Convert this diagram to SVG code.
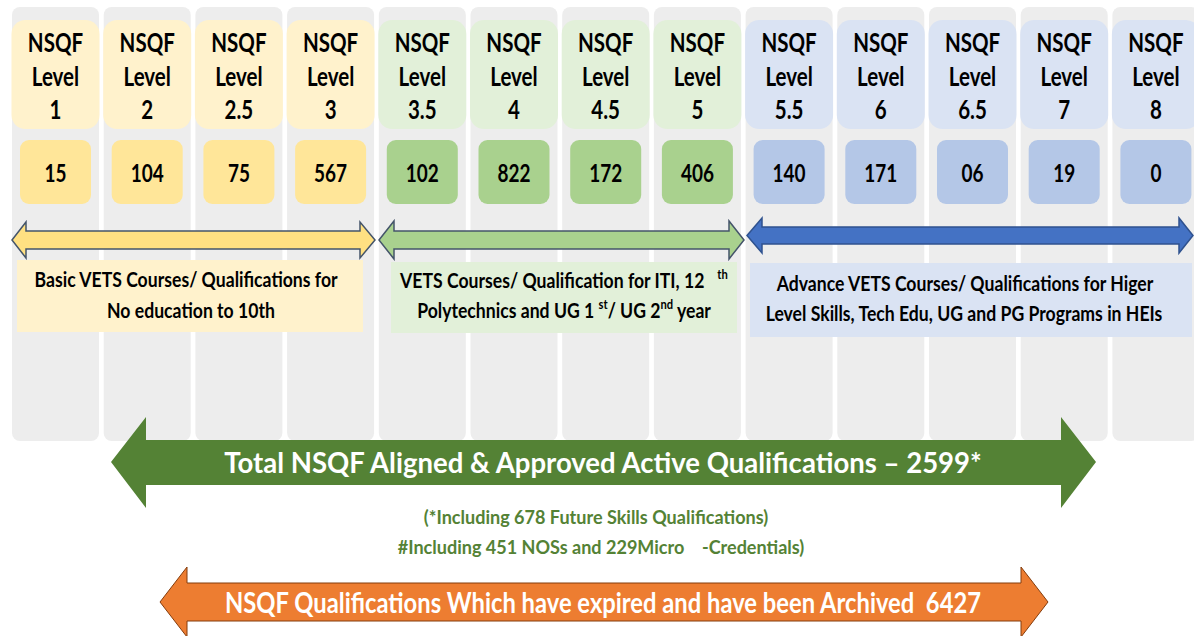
<svg xmlns="http://www.w3.org/2000/svg" width="1194" height="636" viewBox="0 0 1194 636">
<style>
text { font-family: Lato, "Open Sans", "Liberation Sans", sans-serif; font-weight: bold; text-anchor: middle; }
.sq { transform-box: fill-box; transform-origin: center; transform: scaleX(0.76); }
.sd { transform-box: fill-box; transform-origin: center; transform: scaleX(0.86); }
.sb { transform-box: fill-box; transform-origin: center; transform: scaleX(0.95); }
.so { transform-box: fill-box; transform-origin: center; transform: scaleX(0.82); }
.col { fill: #EDEDED; }
.lbl { font-size: 27px; fill: #000; }
.num { font-size: 25px; fill: #000; }
.desc { font-size: 20.5px; fill: #000; }
.big { font-size: 29px; fill: #fff; }
.sub { font-size: 19px; fill: #548235; }
.y1 { fill: #FFF2CC; } .y2 { fill: #FFE699; }
.g1 { fill: #E2F0D9; } .g2 { fill: #A9D18E; }
.b1 { fill: #DAE3F3; } .b2 { fill: #B4C7E7; }
</style>
<rect width="1194" height="636" fill="#fff"/>
<g id="columns">
<rect class="col" x="12" y="7" width="87" height="434" rx="8"/>
<rect class="col" x="103.7" y="7" width="87" height="434" rx="8"/>
<rect class="col" x="195.4" y="7" width="87" height="434" rx="8"/>
<rect class="col" x="287.1" y="7" width="87" height="434" rx="8"/>
<rect class="col" x="378.8" y="7" width="87" height="434" rx="8"/>
<rect class="col" x="470.5" y="7" width="87" height="434" rx="8"/>
<rect class="col" x="562.2" y="7" width="87" height="434" rx="8"/>
<rect class="col" x="653.9" y="7" width="87" height="434" rx="8"/>
<rect class="col" x="745.6" y="7" width="87" height="434" rx="8"/>
<rect class="col" x="837.3" y="7" width="87" height="434" rx="8"/>
<rect class="col" x="929" y="7" width="87" height="434" rx="8"/>
<rect class="col" x="1020.7" y="7" width="87" height="434" rx="8"/>
<rect class="col" x="1112.4" y="7" width="87" height="434" rx="8"/>
</g>
<g id="level-1"><rect class="y1" x="11.5" y="20" width="88" height="109" rx="14"/><rect class="y2" x="20" y="140" width="71" height="64" rx="9"/>
<text class="lbl sq" x="55.5" y="52">NSQF</text><text class="lbl sq" x="55.5" y="86">Level</text><text class="lbl sq" x="55.5" y="119">1</text><text class="num sq" x="55.5" y="182">15</text></g>
<g id="level-2"><rect class="y1" x="103.2" y="20" width="88" height="109" rx="14"/><rect class="y2" x="111.7" y="140" width="71" height="64" rx="9"/>
<text class="lbl sq" x="147.2" y="52">NSQF</text><text class="lbl sq" x="147.2" y="86">Level</text><text class="lbl sq" x="147.2" y="119">2</text><text class="num sq" x="147.2" y="182">104</text></g>
<g id="level-2-5"><rect class="y1" x="194.9" y="20" width="88" height="109" rx="14"/><rect class="y2" x="203.4" y="140" width="71" height="64" rx="9"/>
<text class="lbl sq" x="238.9" y="52">NSQF</text><text class="lbl sq" x="238.9" y="86">Level</text><text class="lbl sq" x="238.9" y="119">2.5</text><text class="num sq" x="238.9" y="182">75</text></g>
<g id="level-3"><rect class="y1" x="286.6" y="20" width="88" height="109" rx="14"/><rect class="y2" x="295.1" y="140" width="71" height="64" rx="9"/>
<text class="lbl sq" x="330.6" y="52">NSQF</text><text class="lbl sq" x="330.6" y="86">Level</text><text class="lbl sq" x="330.6" y="119">3</text><text class="num sq" x="330.6" y="182">567</text></g>
<g id="level-3-5"><rect class="g1" x="378.3" y="20" width="88" height="109" rx="14"/><rect class="g2" x="386.8" y="140" width="71" height="64" rx="9"/>
<text class="lbl sq" x="422.3" y="52">NSQF</text><text class="lbl sq" x="422.3" y="86">Level</text><text class="lbl sq" x="422.3" y="119">3.5</text><text class="num sq" x="422.3" y="182">102</text></g>
<g id="level-4"><rect class="g1" x="470" y="20" width="88" height="109" rx="14"/><rect class="g2" x="478.5" y="140" width="71" height="64" rx="9"/>
<text class="lbl sq" x="514" y="52">NSQF</text><text class="lbl sq" x="514" y="86">Level</text><text class="lbl sq" x="514" y="119">4</text><text class="num sq" x="514" y="182">822</text></g>
<g id="level-4-5"><rect class="g1" x="561.7" y="20" width="88" height="109" rx="14"/><rect class="g2" x="570.2" y="140" width="71" height="64" rx="9"/>
<text class="lbl sq" x="605.7" y="52">NSQF</text><text class="lbl sq" x="605.7" y="86">Level</text><text class="lbl sq" x="605.7" y="119">4.5</text><text class="num sq" x="605.7" y="182">172</text></g>
<g id="level-5"><rect class="g1" x="653.4" y="20" width="88" height="109" rx="14"/><rect class="g2" x="661.9" y="140" width="71" height="64" rx="9"/>
<text class="lbl sq" x="697.4" y="52">NSQF</text><text class="lbl sq" x="697.4" y="86">Level</text><text class="lbl sq" x="697.4" y="119">5</text><text class="num sq" x="697.4" y="182">406</text></g>
<g id="level-5-5"><rect class="b1" x="745.1" y="20" width="88" height="109" rx="14"/><rect class="b2" x="753.6" y="140" width="71" height="64" rx="9"/>
<text class="lbl sq" x="789.1" y="52">NSQF</text><text class="lbl sq" x="789.1" y="86">Level</text><text class="lbl sq" x="789.1" y="119">5.5</text><text class="num sq" x="789.1" y="182">140</text></g>
<g id="level-6"><rect class="b1" x="836.8" y="20" width="88" height="109" rx="14"/><rect class="b2" x="845.3" y="140" width="71" height="64" rx="9"/>
<text class="lbl sq" x="880.8" y="52">NSQF</text><text class="lbl sq" x="880.8" y="86">Level</text><text class="lbl sq" x="880.8" y="119">6</text><text class="num sq" x="880.8" y="182">171</text></g>
<g id="level-6-5"><rect class="b1" x="928.5" y="20" width="88" height="109" rx="14"/><rect class="b2" x="937" y="140" width="71" height="64" rx="9"/>
<text class="lbl sq" x="972.5" y="52">NSQF</text><text class="lbl sq" x="972.5" y="86">Level</text><text class="lbl sq" x="972.5" y="119">6.5</text><text class="num sq" x="972.5" y="182">06</text></g>
<g id="level-7"><rect class="b1" x="1020.2" y="20" width="88" height="109" rx="14"/><rect class="b2" x="1028.7" y="140" width="71" height="64" rx="9"/>
<text class="lbl sq" x="1064.2" y="52">NSQF</text><text class="lbl sq" x="1064.2" y="86">Level</text><text class="lbl sq" x="1064.2" y="119">7</text><text class="num sq" x="1064.2" y="182">19</text></g>
<g id="level-8"><rect class="b1" x="1111.9" y="20" width="88" height="109" rx="14"/><rect class="b2" x="1120.4" y="140" width="71" height="64" rx="9"/>
<text class="lbl sq" x="1155.9" y="52">NSQF</text><text class="lbl sq" x="1155.9" y="86">Level</text><text class="lbl sq" x="1155.9" y="119">8</text><text class="num sq" x="1155.9" y="182">0</text></g>
<g id="connectors">
<path d="M12,240 L26,222 L26,231 L360,231 L360,222 L375,240 L360,258 L360,249 L26,249 L26,258 Z" fill="#FFE082" stroke="#44546A" stroke-width="1.5"/>
<path d="M379,240 L394,221 L394,231 L729,231 L729,221 L744,240 L729,259 L729,249 L394,249 L394,259 Z" fill="#A9D18E" stroke="#44546A" stroke-width="1.5"/>
<path d="M747,235.5 L762,218 L762,227 L1179,227 L1179,218 L1193,235.5 L1179,253 L1179,244 L762,244 L762,253 Z" fill="#4472C4" stroke="#2F528F" stroke-width="1.5"/>
<path d="M111,462 L146,417 L146,440 L1061,440 L1061,417 L1096,462 L1061,508 L1061,485 L146,485 L146,508 Z" fill="#548235"/>
<path d="M160,602 L187,567 L187,583 L1021,583 L1021,567 L1048,602 L1021,637 L1021,621 L187,621 L187,637 Z" fill="#ED7D31" stroke="#843C0C" stroke-width="1"/>
</g>
<g id="basic-box"><rect class="y1" x="17" y="260" width="346" height="72"/>
<text class="desc sd" x="186" y="287">Basic VETS Courses/ Qualifications for</text>
<text class="desc sd" x="191" y="318">No education to 10th</text></g>
<g id="vets-box"><rect class="g1" x="391" y="262" width="346" height="71"/>
<text class="desc sd" x="564" y="288">VETS Courses/ Qualification for ITI, 12&#160;&#160;&#160;<tspan font-size="13" dy="-9">th</tspan></text>
<text class="desc sd" x="564" y="318">Polytechnics and UG 1 <tspan font-size="13" dy="-9">st</tspan><tspan dy="9">/ UG 2</tspan><tspan font-size="13" dy="-9">nd</tspan><tspan dy="9"> year</tspan></text></g>
<g id="advance-box"><rect class="b1" x="750" y="263" width="442" height="74"/>
<text class="desc sd" x="965" y="291">Advance VETS Courses/ Qualifications for Higer</text>
<text class="desc sd" x="964" y="321">Level Skills, Tech Edu, UG and PG Programs in HEIs</text></g>
<g id="total"><text class="big sb" x="603" y="473">Total NSQF Aligned &amp; Approved Active Qualifications – 2599*</text></g>
<g id="notes"><text class="sub sb" x="596" y="524">(*Including 678 Future Skills Qualifications)</text>
<text class="sub sb" x="601" y="554">#Including 451 NOSs and 229Micro&#160;&#160;&#160;&#160;-Credentials)</text></g>
<g id="archived"><text class="big so" x="603" y="613">NSQF Qualifications Which have expired and have been Archived&#160;&#160;6427</text></g>
</svg>
